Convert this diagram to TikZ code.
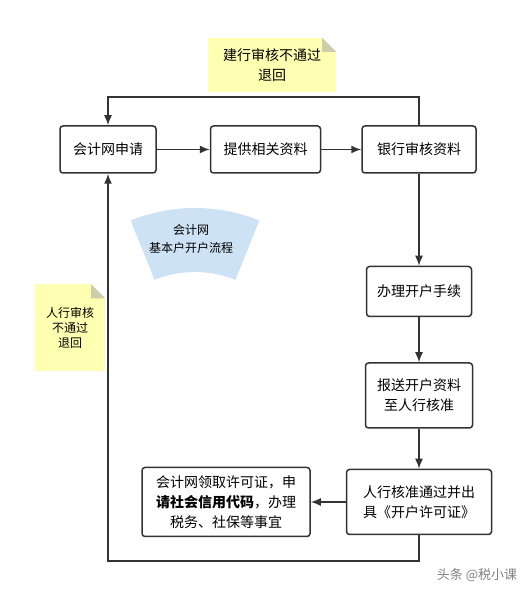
\documentclass[tikz,border=0pt]{standalone}
\usepackage{fontspec}
\setmainfont{Noto Sans CJK SC}
\usetikzlibrary{shapes, arrows.meta, positioning}
\definecolor{boxline}{RGB}{51,51,51}
\definecolor{notey}{RGB}{255,255,178}
\definecolor{foldgray}{RGB}{205,205,170}
\definecolor{fanblue}{RGB}{206,226,245}
\tikzset{
	block/.style={draw=boxline, line width=1.5pt, rounded corners=3pt,
		minimum height=47pt, inner sep=2pt, align=center,
		font=\fontsize{14}{20}\selectfont},
	note/.style={fill=notey, inner sep=2pt, align=center},
	flow/.style={draw=boxline, line width=1.5pt, -{Latex[length=10pt,width=8pt]}}
}
\begin{document}
\begin{tikzpicture}[x=1pt, y=1pt]
	\useasboundingbox (0,0) rectangle (531,596);
	% top row
	\node[block, minimum width=96pt] (apply) at (108,446.5) {会计网申请};
	\node[block, minimum width=110pt, right=53pt of apply] (provide) {提供相关资料};
	\node[block, minimum width=114pt, right=40pt of provide] (bank) {银行审核资料};
	% right column
	\node[block, minimum width=105pt, minimum height=50pt,
	below=92pt of bank] (handle) {办理开户手续};
	\node[block, minimum width=107pt, minimum height=65pt,
	below=45pt of handle] (submit) {报送开户资料\\至人行核准};
	\node[block, minimum width=145pt, minimum height=65pt,
	below=40pt of submit] (permit) {人行核准通过并出\\具《开户许可证》};
	\node[block, minimum width=168pt, minimum height=69pt,
	left=35pt of permit] (license) {会计网领取许可证，申\\\textbf{请社会信用代码}，办理\\税务、社保等事宜};
	% notes
	\node[note, minimum width=128pt, minimum height=54pt,
	font=\fontsize{14}{20}\selectfont] (bnote) at (272,531) {建行审核不通过\\退回};
	\fill[white] ([xshift=-14pt]bnote.north east) -- (bnote.north east)
	-- ([yshift=-14pt]bnote.north east) -- cycle;
	\fill[foldgray] ([xshift=-14pt]bnote.north east) -- ([xshift=-14pt,yshift=-14pt]bnote.north east)
	-- ([yshift=-14pt]bnote.north east) -- cycle;
	\node[note, minimum width=70pt, minimum height=87pt,
	font=\fontsize{12}{15}\selectfont] (pnote) at (70,268) {人行审核\\不通过\\退回};
	\fill[white] ([xshift=-14pt]pnote.north east) -- (pnote.north east)
	-- ([yshift=-14pt]pnote.north east) -- cycle;
	\fill[foldgray] ([xshift=-14pt]pnote.north east) -- ([xshift=-14pt,yshift=-14pt]pnote.north east)
	-- ([yshift=-14pt]pnote.north east) -- cycle;
	% fan title
	\fill[fanblue] (195,216) ++(68:172) arc (68:112:172) -- ++(292:64) arc (112:68:108) -- cycle;
	\node[align=center, font=\fontsize{12}{18}\selectfont] (title) at (191,357) {会计网\\基本户开户流程};
	% arrows
	\draw[flow] (apply) -- (provide);
	\draw[flow] (provide) -- (bank);
	\draw[flow] (bank) -- (handle);
	\draw[flow] (handle) -- (submit);
	\draw[flow] (submit) -- (permit);
	\draw[flow] (permit) -- (license);
	\draw[flow] (bank.north) -- ++(0,28) -| (apply.north);
	\draw[flow] (permit.south) -- ++(0,-26) -| (apply.south);
	% watermark
	\node[text=gray, font=\fontsize{13}{15}\selectfont] (mark) at (477,21) {头条 @税小课};
\end{tikzpicture}
\end{document}
